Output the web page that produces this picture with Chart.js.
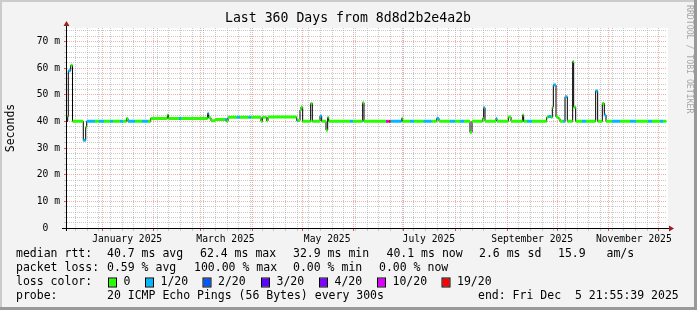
<!DOCTYPE html>
<html>
<head>
<meta charset="utf-8">
<script src="https://cdn.jsdelivr.net/npm/chart.js@4.4.1/dist/chart.umd.min.js"></script>
<style>
  html, body { margin: 0; padding: 0; background: #f3f3f3; }
  canvas { display: block; }
</style>
</head>
<body>
<canvas id="chart" width="697" height="310"></canvas>
<script>
const titleText = 'Last 360 Days from 8d8d2b2e4a2b';
const endTime = Date.UTC(2025, 11, 5, 21, 55, 39);
const spanDays = 360;
const dataEnd = 359.6;

// median rtt runs: start (days since graph start), value (ms), loss bucket
const sampleDay = [0, 0.42, 0.78, 2.22, 3.3, 9.78, 11.22, 11.82, 16.8, 19.2,
  22.2, 25.8, 27.6, 31.8, 33.6, 35.7, 36.6, 40.8, 45.0, 48.6,
  50.2, 60.2, 60.8, 67.2, 68.4, 84.4, 85.0, 86.4, 88.8, 94.8,
  95.8, 96.6, 101.8, 103.8, 108.8, 110.4, 116.4, 117.2, 119.8, 120.6,
  137.8, 138.4, 139.8, 140.4, 141.4, 146.2, 147.2, 151.8, 152.8, 155.4,
  156.4, 157.0, 169.8, 171.6, 177.4, 178.2, 191.4, 192.9, 194.2, 200.8,
  201.4, 205.8, 208.2, 213.8, 218.8, 221.8, 223.2, 229.8, 232.8, 235.8,
  238.2, 241.8, 243.0, 249.4, 250.0, 250.8, 257.4, 258.0, 264.8, 266.4,
  273.4, 274.0, 276.0, 279.0, 287.8, 288.8, 290.4, 291.2, 291.8, 293.4,
  294.8, 295.8, 297.6, 298.8, 300.2, 303.4, 304.0, 305.2, 309.0, 311.4,
  317.2, 318.4, 321.2, 322.4, 323.4, 327.0, 331.8, 337.8, 341.4, 348.6,
  351.0, 355.8, 357.6];
const sampleRtt = [40.0, 41.8, 59.0, 61.0, 40.0, 32.9, 37.8, 40.0, 40.0, 40.0,
  40.0, 40.0, 40.0, 40.0, 40.0, 41.1, 40.0, 40.0, 40.0, 40.0,
  41.1, 42.4, 41.1, 41.1, 41.1, 43.0, 41.3, 40.2, 40.7, 40.7,
  40.0, 41.5, 41.5, 41.5, 41.5, 41.5, 40.0, 41.5, 40.2, 41.6,
  40.3, 40.3, 44.2, 45.3, 40.0, 46.7, 40.0, 42.0, 40.0, 36.7,
  41.5, 40.0, 40.0, 40.0, 47.0, 40.0, 40.0, 40.0, 40.0, 41.1,
  40.0, 40.0, 40.0, 40.0, 40.0, 41.1, 40.0, 40.0, 40.0, 40.0,
  40.0, 35.9, 40.0, 41.1, 45.1, 40.0, 41.1, 40.0, 41.6, 40.0,
  42.4, 40.0, 40.0, 40.0, 41.5, 41.8, 41.5, 45.3, 53.6, 41.6,
  41.0, 40.0, 40.0, 49.2, 40.0, 62.4, 45.3, 40.0, 40.0, 40.0,
  51.4, 40.0, 46.7, 42.4, 40.0, 40.0, 40.0, 40.0, 40.0, 40.0,
  40.0, 40.0, 40.0];
const sampleLoss = [1, 0, 1, 0, 0, 1, 0, 1, 0, 1,
  0, 1, 0, 1, 0, 0, 1, 0, 1, 0,
  0, 0, 0, 1, 0, 1, 0, 0, 0, 1,
  0, 0, 1, 0, 1, 0, 0, 0, 0, 0,
  1, 0, 0, 0, 0, 0, 0, 1, 0, 0,
  0, 0, 1, 0, 0, 0, 5, 6, 1, 0,
  0, 1, 0, 1, 0, 1, 0, 1, 0, 1,
  0, 0, 0, 0, 1, 0, 1, 0, 0, 0,
  0, 0, 1, 0, 0, 1, 0, 0, 1, 0,
  0, 0, 1, 1, 0, 0, 0, 0, 1, 0,
  1, 0, 0, 1, 0, 1, 0, 1, 0, 1,
  0, 1, 0];

const lossLabels = ['0', '1/20', '2/20', '3/20', '4/20', '10/20', '19/20'];
const lossColors = ['#26ff00', '#00b8ff', '#0059ff', '#5e00ff', '#7e00ff', '#dd00ff', '#ff0000'];

const monthLabels = ['January 2025', 'March 2025', 'May 2025', 'July 2025', 'September 2025', 'November 2025'];
const labelMonthIndex = [0, 2, 4, 6, 8, 10];
const yMax = 75;

const statRows = [
  ['median rtt:', '40.7 ms avg', '62.4 ms max', '32.9 ms min', '40.1 ms now', '2.6 ms sd', '15.9', 'am/s'],
  ['packet loss:', '0.59 % avg', '100.00 % max', '0.00 % min', '0.00 % now']
];
const probeText = '20 ICMP Echo Pings (56 Bytes) every 300s';
const endText = 'end: Fri Dec  5 21:55:39 2025';

const MONO = 'DejaVu Sans Mono';

// time helpers
const startTime = endTime - spanDays * 86400000;
const dayOf = t => (t - startTime) / 86400000;

const monthStarts = [];
for (let m = 0; m < 12; m++) monthStarts.push(dayOf(Date.UTC(2025, m, 1)));
const weekStarts = [];
for (let d = dayOf(Date.UTC(2024, 11, 16)); d < spanDays; d += 7) weekStarts.push(d);

const xTicks = [];
weekStarts.forEach(v => {
  if (!monthStarts.some(m => Math.abs(m - v) < 0.01)) xTicks.push({ value: v, kind: 'minor', text: '' });
});
monthStarts.forEach(v => xTicks.push({ value: v, kind: 'major', text: '' }));
labelMonthIndex.forEach((m, i) => {
  xTicks.push({ value: dayOf(Date.UTC(2025, m, 1)) + 15, kind: 'label', text: monthLabels[i] });
});
xTicks.sort((a, b) => a.value - b.value);

const yTicks = [];
for (let v = 0; v < yMax; v += 2) yTicks.push(v);

const MAJOR = 'rgba(240, 90, 90, 0.5)';
const MINOR = 'rgba(150, 150, 150, 0.5)';

// median as a step line
const medianPoints = sampleDay.map((d, i) => ({ x: d, y: sampleRtt[i] }));
medianPoints.push({ x: dataEnd, y: sampleRtt[sampleRtt.length - 1] });

// loss coloured flat pieces on top, one per run
const lossSets = lossColors.map((color, b) => {
  const pts = [];
  for (let i = 0; i < sampleDay.length; i++) {
    if (sampleLoss[i] !== b) continue;
    const end = i + 1 < sampleDay.length ? sampleDay[i + 1] : dataEnd;
    if (pts.length) pts.push({ x: sampleDay[i], y: null });
    pts.push({ x: sampleDay[i], y: sampleRtt[i] }, { x: end, y: sampleRtt[i] });
  }
  return {
    label: lossLabels[b],
    data: pts,
    borderColor: color,
    borderWidth: 3,
    pointRadius: 0,
    spanGaps: false,
    order: 0
  };
});

const decor = {
  id: 'decor',
  beforeDraw(chart) {
    const { ctx, chartArea: a } = chart;
    ctx.save();
    ctx.fillStyle = '#f3f3f3';
    ctx.fillRect(0, 0, 697, 310);
    ctx.fillStyle = '#cbcbcb';
    ctx.fillRect(0, 0, 697, 2);
    ctx.fillRect(0, 0, 2, 310);
    ctx.fillStyle = '#999999';
    ctx.fillRect(0, 307, 697, 3);
    ctx.fillRect(694, 0, 3, 310);
    ctx.fillStyle = '#ffffff';
    ctx.fillRect(a.left, a.top, a.right - a.left + 1, a.bottom - a.top);
    ctx.restore();
  },
  afterDraw(chart) {
    const { ctx, chartArea: a } = chart;
    ctx.save();
    // axes
    ctx.strokeStyle = '#000';
    ctx.lineWidth = 1;
    ctx.beginPath();
    ctx.moveTo(62, a.bottom + 0.5);
    ctx.lineTo(670, a.bottom + 0.5);
    ctx.moveTo(a.left - 0.5, a.bottom + 3);
    ctx.lineTo(a.left - 0.5, 24);
    ctx.stroke();
    ctx.fillStyle = '#9b2020';
    ctx.beginPath();
    ctx.moveTo(669, a.bottom - 2.5);
    ctx.lineTo(674, a.bottom + 0.5);
    ctx.lineTo(669, a.bottom + 3.5);
    ctx.fill();
    ctx.beginPath();
    ctx.moveTo(a.left - 3.5, 26);
    ctx.lineTo(a.left - 0.5, 21);
    ctx.lineTo(a.left + 2.5, 26);
    ctx.fill();

    // title
    ctx.fillStyle = '#000';
    ctx.textBaseline = 'middle';
    ctx.textAlign = 'center';
    ctx.font = '13.2px "' + MONO + '"';
    ctx.fillText(titleText, 348, 19);

    // legend
    ctx.textAlign = 'left';
    ctx.font = '11.5px "' + MONO + '"';
    const rowX = [[16, 107, 200, 293, 386.5, 479, 558, 606.5], [16, 107, 194, 293, 379]];
    statRows.forEach((row, r) => {
      row.forEach((t, i) => ctx.fillText(t, rowX[r][i], 254 + r * 14));
    });
    ctx.fillText('loss color:', 16, 282);
    const boxX = [109, 146, 203.5, 262, 320, 378, 442.5];
    lossLabels.forEach((l, i) => {
      ctx.fillStyle = lossColors[i];
      ctx.fillRect(boxX[i], 278.5, 7, 8);
      ctx.strokeStyle = '#000';
      ctx.strokeRect(boxX[i] - 0.5, 278, 8, 9);
      ctx.fillStyle = '#000';
      ctx.fillText(l, boxX[i] + 14.5, 282);
    });
    ctx.fillText('probe:', 16, 296);
    ctx.fillText(probeText, 107, 296);
    ctx.fillText(endText, 478, 296);

    // watermark
    ctx.translate(684, 5);
    ctx.rotate(Math.PI / 2);
    ctx.fillStyle = '#a6a6a6';
    ctx.font = '8.2px "' + MONO + '"';
    ctx.textBaseline = 'top';
    ctx.fillText('RRDTOOL / TOBI OETIKER', 0, -9);
    ctx.restore();
  }
};

new Chart(document.getElementById('chart'), {
  type: 'line',
  data: {
    datasets: [
      ...lossSets,
      {
        label: 'median rtt',
        data: medianPoints,
        borderColor: '#000',
        borderWidth: 1,
        pointRadius: 0,
        stepped: true,
        order: 1
      }
    ]
  },
  options: {
    responsive: false,
    animation: false,
    devicePixelRatio: 1,
    layout: { padding: { left: 0, right: 30, top: 28, bottom: 60 } },
    plugins: { legend: { display: false }, tooltip: { enabled: false } },
    scales: {
      x: {
        type: 'linear',
        min: 0,
        max: spanDays,
        afterBuildTicks: s => { s.ticks = xTicks.map(t => ({ value: t.value })); },
        afterFit: s => { s.height = 22; },
        grid: {
          color: c => xTicks[c.index] && xTicks[c.index].kind === 'major' ? MAJOR
            : xTicks[c.index] && xTicks[c.index].kind === 'minor' ? MINOR : 'rgba(0,0,0,0)',
          tickColor: c => xTicks[c.index] && xTicks[c.index].kind === 'major' ? '#e05050'
            : xTicks[c.index] && xTicks[c.index].kind === 'minor' ? '#c8c8c8' : 'rgba(0,0,0,0)',
          tickLength: 3
        },
        border: { display: false, dash: [1, 1] },
        ticks: {
          autoSkip: false,
          maxRotation: 0,
          padding: 3,
          color: '#000',
          font: { family: MONO, size: 9.7 },
          callback: (v, i) => xTicks[i] ? xTicks[i].text : ''
        }
      },
      y: {
        type: 'linear',
        min: 0,
        max: yMax,
        afterBuildTicks: s => { s.ticks = yTicks.map(v => ({ value: v })); },
        afterFit: s => { s.width = 67; },
        grid: {
          color: c => c.tick && c.tick.value % 10 === 0 ? MAJOR : MINOR,
          tickColor: c => c.tick && c.tick.value % 10 === 0 ? '#e05050' : '#c8c8c8',
          tickLength: 3
        },
        border: { display: false, dash: [1, 1] },
        title: {
          display: true,
          text: 'Seconds',
          color: '#000',
          padding: 4,
          font: { family: MONO, size: 11.5 }
        },
        ticks: {
          autoSkip: false,
          padding: 4,
          color: '#000',
          font: { family: MONO, size: 9.7 },
          callback: v => v % 10 !== 0 ? '' : (v === 0 ? '0  ' : v + ' m')
        }
      }
    }
  },
  plugins: [decor]
});
</script>
</body>
</html>
